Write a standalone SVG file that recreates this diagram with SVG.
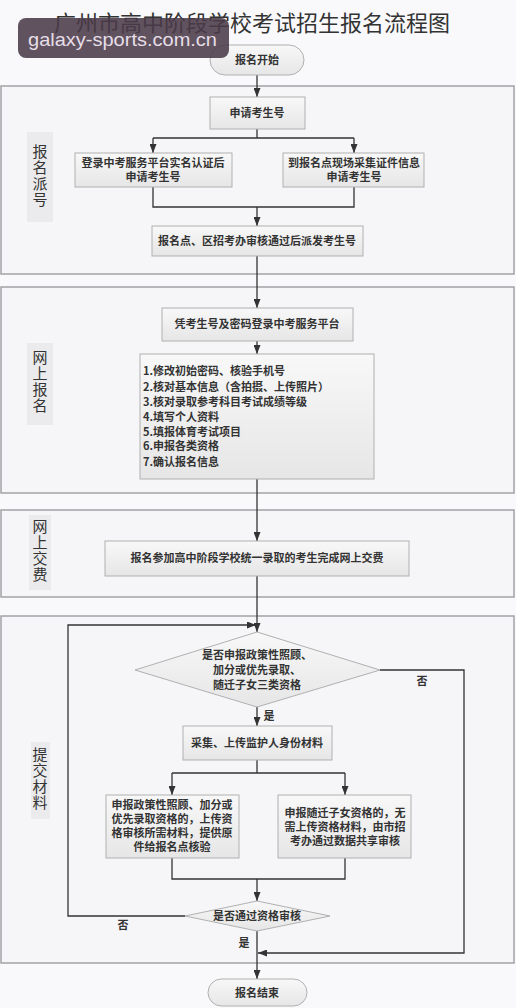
<svg xmlns="http://www.w3.org/2000/svg" width="516" height="1008" viewBox="0 0 516 1008">
<defs>
<linearGradient id="g" x1="0" y1="0" x2="0" y2="1">
<stop offset="0" stop-color="#f8f8f8"/>
<stop offset="1" stop-color="#e6e6e6"/>
</linearGradient>
<marker id="a" markerWidth="9" markerHeight="7" refX="9" refY="3.5" orient="auto" markerUnits="userSpaceOnUse">
<path d="M0,0 L9,3.5 L0,7 z" fill="#333"/>
</marker>
<style>
.frame{fill:#f6f6f9;stroke:#a3a3a6;stroke-width:1.5}
.box{fill:url(#g);stroke:#b0b0b0;stroke-width:1}
.lbg{fill:#ebebed;stroke:none}
.t{font-family:"Noto Sans CJK SC","Noto Sans CJK JP",sans-serif;font-size:11px;font-weight:bold;fill:#333;text-anchor:middle}
.tl{font-family:"Noto Sans CJK SC","Noto Sans CJK JP",sans-serif;font-size:11px;font-weight:bold;fill:#333}
.lab{font-family:"Noto Sans CJK SC","Noto Sans CJK JP",sans-serif;font-size:15px;fill:#333;writing-mode:vertical-rl;letter-spacing:1px}
.c{fill:none;stroke:#333;stroke-width:1.3}
.ca{fill:none;stroke:#333;stroke-width:1.3;marker-end:url(#a)}
</style>
</defs>
<rect x="0" y="0" width="516" height="1008" fill="#f9f9fb"/>
<g id="title">
<text x="252" y="31" font-family="'Noto Sans CJK SC',sans-serif" font-size="22" fill="#333" text-anchor="middle">广州市高中阶段学校考试招生报名流程图</text>
</g>
<g id="sections">
<rect class="frame" x="1" y="86" width="513" height="188"/>
<rect class="frame" x="1" y="287" width="513" height="206"/>
<rect class="frame" x="1" y="510" width="513" height="87"/>
<rect class="frame" x="1" y="616" width="513" height="347"/>
<rect class="lbg" x="27" y="132" width="26" height="90"/>
<text class="lab" x="40" y="144">报名派号</text>
<rect class="lbg" x="27" y="343" width="26" height="82"/>
<text class="lab" x="40" y="350">网上报名</text>
<rect class="lbg" x="29" y="515" width="22" height="75"/>
<text class="lab" x="40" y="519">网上交费</text>
<rect class="lbg" x="31" y="742" width="19" height="77"/>
<text class="lab" x="40" y="747">提交材料</text>
</g>
<g id="connectors">
<path class="ca" d="M257,75 V97"/>
<path class="c" d="M257,129 V138 M153,138 H354"/>
<path class="ca" d="M153,138 V153"/>
<path class="ca" d="M354,138 V153"/>
<path class="c" d="M153,187 V207 H354 V187"/>
<path class="ca" d="M257,207 V226"/>
<path class="ca" d="M257,256 V308"/>
<path class="ca" d="M257,341 V354"/>
<path class="ca" d="M257,479 V541"/>
<path class="ca" d="M257,576 V632"/>
<path class="ca" d="M185,916 H68 V625 H256"/>
<path class="ca" d="M257,707 V726"/>
<path class="c" d="M257,760 V773 M172,773 H345"/>
<path class="ca" d="M172,773 V795"/>
<path class="ca" d="M345,773 V795"/>
<path class="c" d="M172,858 V879 H345 V858"/>
<path class="ca" d="M257,879 V901"/>
<path class="ca" d="M257,931 V979"/>
<path class="ca" d="M380,670 H464 V953 H258"/>
<text class="t" x="422" y="685">否</text>
<text class="t" x="269" y="720">是</text>
<text class="t" x="123" y="929">否</text>
<text class="t" x="244" y="947">是</text>
</g>
<g id="start">
<rect class="box" x="210" y="45" width="94" height="30" rx="15"/>
<text class="t" x="257" y="64">报名开始</text>
</g>
<g id="apply">
<rect class="box" x="210" y="97" width="95" height="32"/>
<text class="t" x="257" y="117">申请考生号</text>
</g>
<g id="online-apply">
<rect class="box" x="75" y="153" width="157" height="34"/>
<text class="t" x="153" y="167">登录中考服务平台实名认证后<tspan x="153" dy="14">申请考生号</tspan></text>
</g>
<g id="onsite-apply">
<rect class="box" x="283" y="153" width="141" height="34"/>
<text class="t" x="354" y="167">到报名点现场采集证件信息<tspan x="354" dy="14">申请考生号</tspan></text>
</g>
<g id="assign">
<rect class="box" x="152" y="226" width="211" height="30"/>
<text class="t" x="257" y="245">报名点、区招考办审核通过后派发考生号</text>
</g>
<g id="login">
<rect class="box" x="162" y="308" width="191" height="33"/>
<text class="t" x="257" y="328">凭考生号及密码登录中考服务平台</text>
</g>
<g id="steps">
<rect class="box" x="140" y="354" width="234" height="125"/>
<text class="tl" x="143" y="375">1.修改初始密码、核验手机号<tspan x="143" dy="16">2.核对基本信息（含拍摄、上传照片）</tspan><tspan x="143" dy="15">3.核对录取参考科目考试成绩等级</tspan><tspan x="143" dy="15">4.填写个人资料</tspan><tspan x="143" dy="15">5.填报体育考试项目</tspan><tspan x="143" dy="14">6.申报各类资格</tspan><tspan x="143" dy="16">7.确认报名信息</tspan></text>
</g>
<g id="pay">
<rect class="box" x="105" y="541" width="304" height="35"/>
<text class="t" x="257" y="562">报名参加高中阶段学校统一录取的考生完成网上交费</text>
</g>
<g id="decision1">
<polygon class="box" points="257,632 380,670 257,707 135,670"/>
<text class="t" x="257" y="659">是否申报政策性照顾、<tspan x="257" dy="15">加分或优先录取、</tspan><tspan x="257" dy="15">随迁子女三类资格</tspan></text>
</g>
<g id="guardian">
<rect class="box" x="183" y="726" width="149" height="34"/>
<text class="t" x="257" y="747">采集、上传监护人身份材料</text>
</g>
<g id="policy">
<rect class="box" x="106" y="795" width="133" height="63"/>
<text class="t" x="172" y="809">申报政策性照顾、加分或<tspan x="172" dy="14">优先录取资格的，上传资</tspan><tspan x="172" dy="14">格审核所需材料，提供原</tspan><tspan x="172" dy="14">件给报名点核验</tspan></text>
</g>
<g id="migrant">
<rect class="box" x="278" y="795" width="133" height="63"/>
<text class="t" x="345" y="817">申报随迁子女资格的，无<tspan x="345" dy="14">需上传资格材料，由市招</tspan><tspan x="345" dy="14">考办通过数据共享审核</tspan></text>
</g>
<g id="decision2">
<polygon class="box" points="257,901 330,916 257,931 185,916"/>
<text class="t" x="257" y="920">是否通过资格审核</text>
</g>
<g id="end">
<rect class="box" x="208" y="979" width="99" height="27" rx="13.5"/>
<text class="t" x="257" y="997">报名结束</text>
</g>
<g id="watermark">
<rect x="18" y="18" width="211" height="40" rx="8" fill="#4a3a48" fill-opacity="0.88"/>
<text x="28" y="46" font-family="'Liberation Sans',sans-serif" font-size="19" fill="#e6dee8" textLength="189" lengthAdjust="spacingAndGlyphs">galaxy-sports.com.cn</text>
</g>
</svg>
